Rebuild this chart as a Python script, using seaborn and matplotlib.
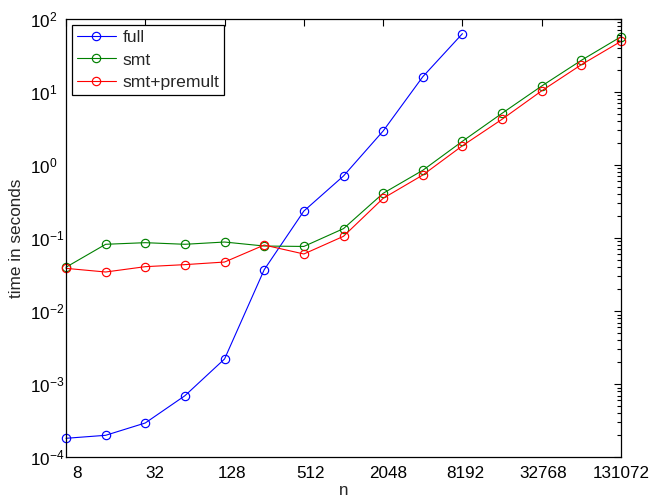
import numpy as np
import pandas as pd
import matplotlib
matplotlib.use("Agg")
import matplotlib.pyplot as plt
import matplotlib.transforms as mtransforms
import seaborn as sns
from matplotlib.ticker import FixedLocator, FixedFormatter, LogLocator, NullLocator, NullFormatter

n_values = [8, 16, 32, 64, 128, 256, 512, 1024, 2048, 4096, 8192, 16384, 32768, 65536, 131072]
full = [1.82e-4, 2.0e-4, 2.95e-4, 6.97e-4, 2.22e-3, 0.037, 0.235, 0.71, 2.93, 16.2, 63.0]
smt = [0.040, 0.0824, 0.0867, 0.0824, 0.0885, 0.078, 0.077, 0.135, 0.411, 0.849, 2.12, 5.12, 12.1, 27.2, 57.2]
smt_premult = [0.0386, 0.0344, 0.0407, 0.0434, 0.0471, 0.0805, 0.0607, 0.106, 0.351, 0.731, 1.84, 4.24, 10.4, 23.7, 49.5]
series_names = ["full", "smt", "smt+premult"]
x_ticks = [8, 32, 128, 512, 2048, 8192, 32768, 131072]
x_tick_labels = ["8", "32", "128", "512", "2048", "8192", "32768", "131072"]
y_ticks = [1e-4, 1e-3, 1e-2, 1e-1, 1e0, 1e1, 1e2]
y_tick_labels = [r"$10^{-4}$", r"$10^{-3}$", r"$10^{-2}$", r"$10^{-1}$",
                 r"$10^{0}$", r"$10^{1}$", r"$10^{2}$"]

rows = []
for name, vals in zip(series_names, [full, smt, smt_premult]):
    for n, v in zip(n_values, vals):
        rows.append({"n": n, "time": v, "series": name})
df = pd.DataFrame(rows)

sns.set_style("white")
plt.rcParams["font.family"] = ["Liberation Sans", "DejaVu Sans"]
plt.rcParams["mathtext.fontset"] = "custom"
plt.rcParams["mathtext.rm"] = "Liberation Sans"
plt.rcParams["mathtext.it"] = "Liberation Sans:italic"
plt.rcParams["mathtext.default"] = "regular"

fig = plt.figure(figsize=(6.52, 4.98), dpi=100)
ax = fig.add_axes([66 / 652, 1 - 457.3 / 498, (621 - 66) / 652, (457.3 - 19) / 498])

palette = {"full": (0, 0, 1), "smt": (0, 0.5, 0), "smt+premult": (1, 0, 0)}
sns.lineplot(data=df, x="n", y="time", hue="series", palette=palette,
             hue_order=series_names, marker="o", markersize=6,
             markerfacecolor="none", markeredgewidth=0.85, linewidth=0.8,
             ax=ax, clip_on=False, legend=True)
for line in ax.lines:
    line.set_markerfacecolor("none")
    line.set_markeredgecolor(line.get_color())

ax.set_xscale("log", base=2)
ax.set_yscale("log")
ax.set_xlim(8, 131072)
ax.set_ylim(1e-4, 1e2)
ax.xaxis.set_major_locator(FixedLocator(x_ticks))
ax.xaxis.set_major_formatter(FixedFormatter(x_tick_labels))
ax.xaxis.set_minor_locator(NullLocator())
ax.yaxis.set_major_locator(FixedLocator(y_ticks))
ax.yaxis.set_major_formatter(FixedFormatter(y_tick_labels))
ax.yaxis.set_minor_locator(LogLocator(base=10, subs=np.arange(2, 10), numticks=20))
ax.yaxis.set_minor_formatter(NullFormatter())

ax.tick_params(which="both", direction="in", top=True, right=True, colors="black",
               labelsize=12.3, width=0.8)
ax.tick_params(which="major", length=5)
ax.tick_params(axis="x", which="major", pad=6)
ax.tick_params(axis="y", which="major", pad=26)
ax.tick_params(which="minor", length=3)
for s in ax.spines.values():
    s.set_color("black")
    s.set_linewidth(0.9)

ax.set_xlabel("n", fontsize=12.3, labelpad=2)
ax.set_ylabel("time in seconds", fontsize=12.3, labelpad=4)

leg = ax.legend(loc="upper left", fontsize=12.6, frameon=True, fancybox=False,
                edgecolor="black", framealpha=1, borderaxespad=0.35,
                handlelength=2.2, handletextpad=0.4, labelspacing=0.4,
                borderpad=0.28)
leg.get_frame().set_linewidth(0.9)
for h in leg.legend_handles:
    h.set_markerfacecolor("none")

fig.canvas.draw()
for lab in ax.get_yticklabels():
    lab.set_horizontalalignment("left")
xt = ax.xaxis.get_major_ticks()
for i, tk in enumerate(xt):
    frac = i / (len(xt) - 1)
    dx = 11 * (1 - frac) / 100.0
    tk.label1.set_transform(tk.label1.get_transform() +
                            mtransforms.ScaledTranslation(dx, 0, fig.dpi_scale_trans))

fig.savefig("out.png", dpi=100)
